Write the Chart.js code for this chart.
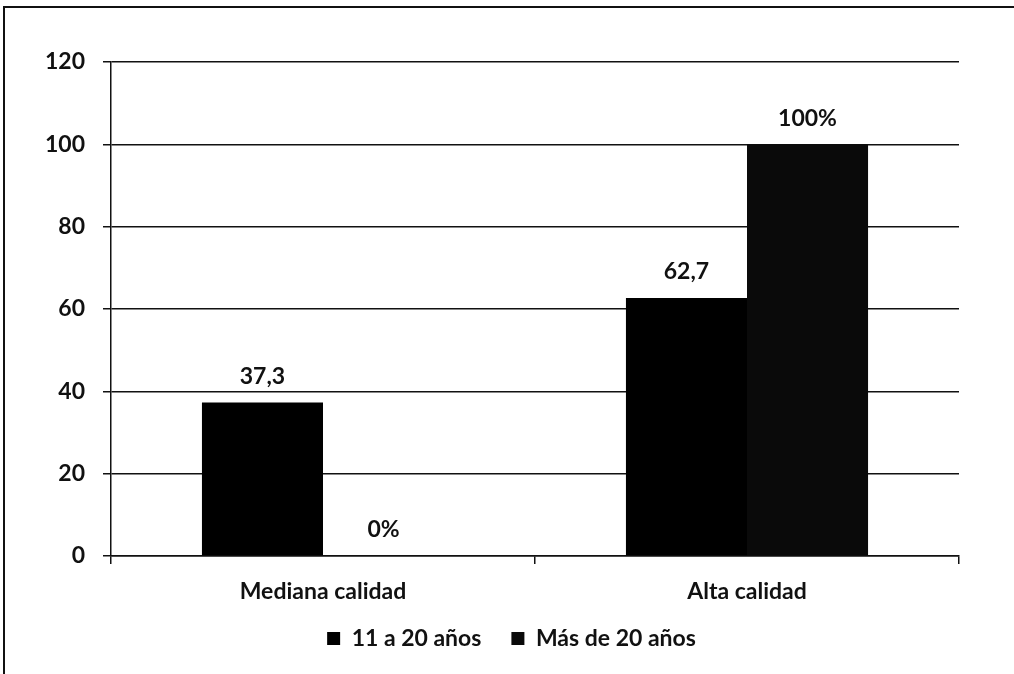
<!DOCTYPE html>
<html>
<head>
<meta charset="utf-8">
<script src="https://cdn.jsdelivr.net/npm/chart.js@4.4.1/dist/chart.umd.min.js"></script>
<style>
  html, body { margin: 0; padding: 0; background: #fff; }
  #wrap { position: relative; width: 1014px; height: 674px; overflow: hidden; }
  #frame { position: absolute; left: 3px; top: 6px; width: 1020px; height: 700px;
           border-top: 2px solid #111; border-left: 2px solid #111; box-sizing: border-box; }
  canvas { position: absolute; left: 0; top: 0; }
</style>
</head>
<body>
<div id="wrap">
  <div id="frame"></div>
  <canvas id="c" width="1014" height="674"></canvas>
</div>
<script>
// Quality level by years of service
const categories = ['Mediana calidad', 'Alta calidad'];
const seriesNames = ['11 a 20 años', 'Más de 20 años'];
const valuesA = [37.3, 62.7];
const valuesB = [0, 100];
const labelsA = ['37,3', '62,7'];
const labelsB = ['0%', '100%'];
const yTicks = [0, 20, 40, 60, 80, 100, 120];

const FONT = 'Lato, "Open Sans", sans-serif';
const INK = '#111';
const TEXT = { family: FONT, size: 23, weight: 'bold' };

// Writes each bar's label just above its top edge
const barLabels = {
  id: 'barLabels',
  afterDatasetsDraw(chart, args, opts) {
    const ctx = chart.ctx;
    ctx.save();
    ctx.font = opts.font;
    ctx.fillStyle = opts.color;
    ctx.textAlign = 'center';
    ctx.textBaseline = 'middle';
    chart.data.datasets.forEach((ds, di) => {
      const meta = chart.getDatasetMeta(di);
      meta.data.forEach((bar, i) => {
        ctx.fillText(ds.pointLabels[i], bar.x, bar.y - opts.offset);
      });
    });
    ctx.restore();
  }
};

// Nudges the legend row so it sits centred under the plot, close to the axis labels
const legendShift = {
  id: 'legendShift',
  afterLayout(chart, args, opts) {
    const lg = chart.legend;
    if (lg) {
      lg.left += opts.dx;
      lg.right += opts.dx;
      lg.top += opts.dy;
      lg.bottom += opts.dy;
    }
  }
};

new Chart(document.getElementById('c'), {
  type: 'bar',
  data: {
    labels: categories,
    datasets: [
      { label: seriesNames[0], data: valuesA, pointLabels: labelsA,
        backgroundColor: '#000', borderWidth: 0 },
      { label: seriesNames[1], data: valuesB, pointLabels: labelsB,
        backgroundColor: '#0a0a0a', borderWidth: 0 }
    ]
  },
  options: {
    responsive: false,
    animation: false,
    layout: { padding: { left: 30, right: 55, top: 62, bottom: 3 } },
    datasets: { bar: { barPercentage: 1, categoryPercentage: 0.571 } },
    plugins: {
      tooltip: { enabled: false },
      barLabels: { font: 'bold 23px ' + FONT, color: INK, offset: 26 },
      legendShift: { dx: 17, dy: -11 },
      legend: {
        position: 'bottom',
        labels: {
          font: TEXT,
          color: INK,
          boxWidth: 13,
          boxHeight: 13,
          padding: 30,
          useBorderRadius: false
        }
      }
    },
    scales: {
      x: {
        offset: true,
        grid: { offset: true, drawOnChartArea: false, drawTicks: true, tickLength: 8,
                color: INK, lineWidth: 1.5 },
        border: { display: true, color: INK, width: 1.5 },
        ticks: { font: TEXT, color: INK, padding: 14 },
        afterFit(s) { s.height = 52; }
      },
      y: {
        min: 0, max: 120,
        afterBuildTicks(s) { s.ticks = yTicks.map(v => ({ value: v })); },
        grid: { color: INK, lineWidth: 1.5, tickLength: 8 },
        border: { display: true, color: INK, width: 1.5 },
        ticks: { font: TEXT, color: INK, padding: 18 },
        afterFit(s) { s.width = 81; }
      }
    }
  },
  plugins: [barLabels, legendShift]
});
</script>
</body>
</html>
